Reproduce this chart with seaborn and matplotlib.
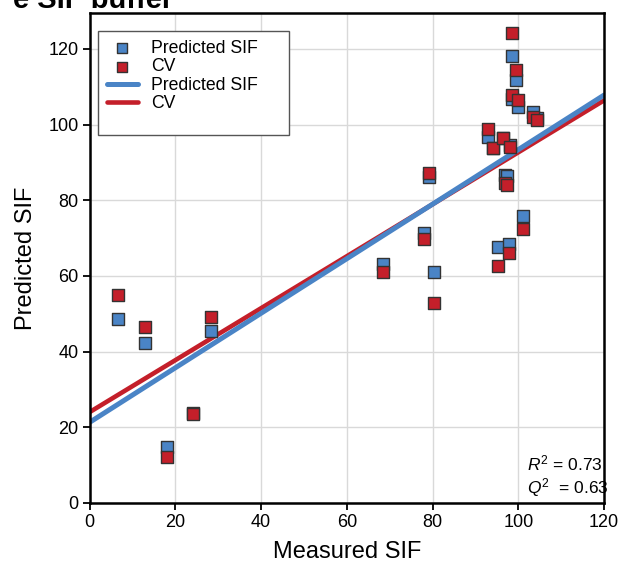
import matplotlib
matplotlib.use("Agg")
import matplotlib.pyplot as plt
from matplotlib.patches import Rectangle
import pandas as pd
import seaborn as sns

# values
measured = [6.7, 12.9, 18.0, 24.2, 28.3, 68.5, 78.0, 79.2, 80.3, 92.9, 94.2, 95.2,
            96.5, 96.9, 97.4, 97.9, 98.1, 98.6, 98.6, 99.5, 100.0, 101.2, 103.5, 104.4]
predicted = [48.6, 42.3, 14.7, 23.7, 45.4, 63.1, 71.3, 86.2, 61.1, 96.7, 93.8, 67.6,
             96.4, 86.7, 86.3, 68.5, 94.5, 118.2, 106.7, 111.8, 104.6, 75.9, 103.4, 101.8]
cv = [55.0, 46.4, 12.1, 23.5, 49.1, 61.1, 69.7, 87.2, 52.9, 98.8, 93.8, 62.5,
      96.4, 84.5, 84.1, 66.0, 94.2, 124.3, 107.9, 114.5, 106.5, 72.4, 102.0, 101.2]

fit_x = [0, 120]
fit_predicted = [21.3, 107.8]
fit_cv = [24.0, 106.4]

blue = "#4a84c6"
red = "#c41f2a"

sns.set_style("white")
plt.rcParams["font.family"] = ["Liberation Sans", "DejaVu Sans"]
plt.rcParams["text.color"] = "black"
plt.rcParams["axes.labelcolor"] = "black"
plt.rcParams["xtick.color"] = "black"
plt.rcParams["ytick.color"] = "black"
plt.rcParams["mathtext.fontset"] = "custom"
plt.rcParams["mathtext.rm"] = "Liberation Sans"
plt.rcParams["mathtext.it"] = "Liberation Sans:italic"

df = pd.DataFrame({"measured": measured, "predicted": predicted, "cv": cv})
fits = pd.DataFrame({"x": fit_x, "predicted": fit_predicted, "cv": fit_cv})

fig = plt.figure(figsize=(6.22, 5.69), dpi=100)
ax = fig.add_axes([0.1439, 0.116, 0.8272, 0.8612])

sns.lineplot(data=fits, x="x", y="cv", color=red, linewidth=3.3, ax=ax, label="CV_line")
sns.lineplot(data=fits, x="x", y="predicted", color=blue, linewidth=3.6, ax=ax, label="Pred_line")
sns.scatterplot(data=df, x="measured", y="predicted", marker="s", s=72, color=blue,
                edgecolor="#333333", linewidth=1.0, ax=ax, label="Pred_pts", zorder=3)
sns.scatterplot(data=df, x="measured", y="cv", marker="s", s=72, color=red,
                edgecolor="#333333", linewidth=1.0, ax=ax, label="CV_pts", zorder=4)

ax.set_xlim(0, 120)
ax.set_ylim(0, 129.5)
ax.set_xticks(range(0, 121, 20))
ax.set_yticks(range(0, 121, 20))
ax.grid(True, color="#d9d9d9", linewidth=1.0)
ax.set_axisbelow(True)
for sp in ax.spines.values():
    sp.set_color("black")
    sp.set_linewidth(1.8)
ax.tick_params(axis="both", direction="out", length=5, width=1.3, color="black",
               labelsize=13, labelcolor="black", bottom=True, left=True, pad=3)
ax.set_xlabel("Measured SIF", fontsize=17, labelpad=7)
ax.set_ylabel("Predicted SIF", fontsize=17, labelpad=8)

handles, labels = ax.get_legend_handles_labels()
lookup = dict(zip(labels, handles))
order = ["Pred_pts", "CV_pts", "Pred_line", "CV_line"]
names = ["Predicted SIF", "CV", "Predicted SIF", "CV"]
# legend frame in the source is roomier than its contents, so draw it separately
ax.add_patch(Rectangle((0.0165, 0.751), 0.371, 0.212, transform=ax.transAxes,
                       facecolor="white", edgecolor="#555555", linewidth=1.0, zorder=5))
leg = ax.legend([lookup[k] for k in order], names, loc="upper left",
                bbox_to_anchor=(0.0165, 0.963), borderaxespad=0, fontsize=12.7,
                frameon=False, handlelength=1.75, handletextpad=0.75,
                labelspacing=0.08, borderpad=0.5, markerscale=0.8)
leg.set_zorder(6)

ax.text(0.85, 0.067, r"$R^2$ = 0.73", transform=ax.transAxes, fontsize=12.5, va="baseline")
ax.text(0.85, 0.020, r"$Q^2$  = 0.63", transform=ax.transAxes, fontsize=12.5, va="baseline")

# heading that is cut off at the top edge in the source figure
fig.text(13 / 622, 1 - 8 / 569, "e SIF buffer", fontsize=21, fontweight="bold",
         va="baseline", ha="left")

fig.savefig("out.png", dpi=100)
